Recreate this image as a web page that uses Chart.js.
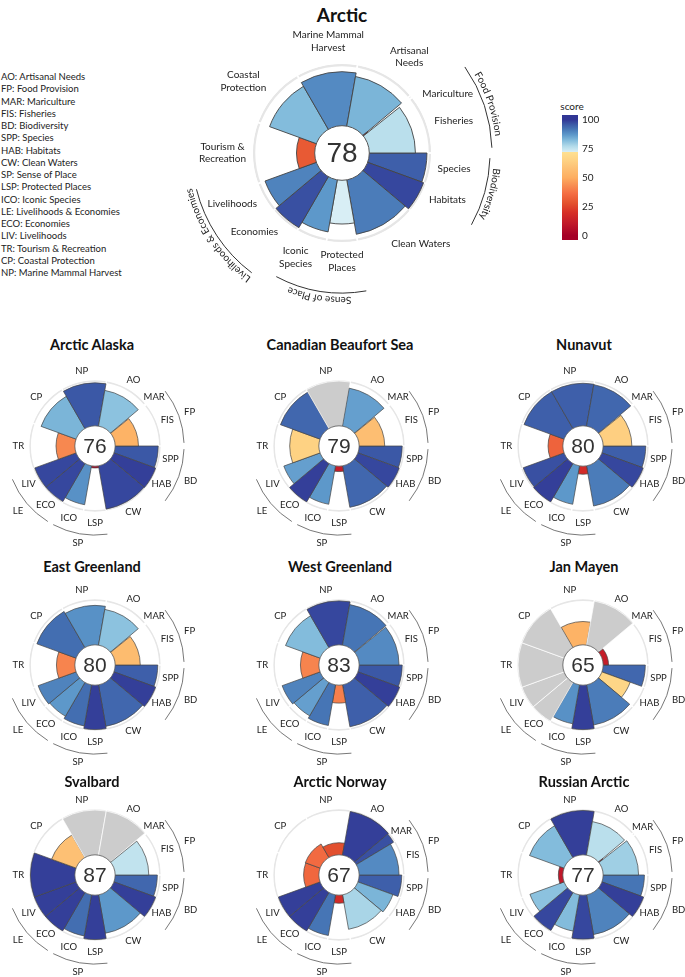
<!DOCTYPE html>
<html>
<head>
<meta charset="utf-8">
<script src="https://cdn.jsdelivr.net/npm/chart.js@4.4.1/dist/chart.umd.min.js"></script>
<style>
  body { margin: 0; background: #fff; width: 685px; height: 977px; position: relative; overflow: hidden; font-family: Lato, sans-serif; color: #222; }
  canvas { position: absolute; }
  .title { position: absolute; width: 240px; text-align: center; font-weight: bold; font-size: 14.5px; line-height: 18px; color: #111; }
  #legend { position: absolute; left: 1px; top: 71px; font-size: 9.5px; line-height: 12.25px; }
  #cbTitle { position: absolute; left: 552px; top: 100px; width: 40px; text-align: center; font-size: 10px; line-height: 12px; }
</style>
</head>
<body>
<div id="legend"></div>
<div id="cbTitle">score</div>
<script>
// goals go clockwise starting at 3 o'clock
const goals = ['SPP', 'HAB', 'CW', 'LSP', 'ICO', 'ECO', 'LIV', 'TR', 'CP', 'NP', 'AO', 'MAR', 'FIS'];
const goalNames = [['Species'], ['Habitats'], ['Clean Waters'], ['Protected', 'Places'], ['Iconic', 'Species'],
  ['Economies'], ['Livelihoods'], ['Tourism &', 'Recreation'], ['Coastal', 'Protection'],
  ['Marine Mammal', 'Harvest'], ['Artisanal', 'Needs'], ['Mariculture'], ['Fisheries']];
const goalWeights = [20, 20, 40, 20, 20, 20, 20, 40, 40, 40, 40, null, null]; // MAR + FIS share 40
const groupKeys = ['FP', 'BD', 'SP', 'LE'];
const groupNames = ['Food Provision', 'Biodiversity', 'Sense of Place', 'Livelihoods & Economies'];
const groupMembers = [['MAR', 'FIS'], ['SPP', 'HAB'], ['LSP', 'ICO'], ['ECO', 'LIV']];

const regions = ['Arctic', 'Arctic Alaska', 'Canadian Beaufort Sea', 'Nunavut', 'East Greenland',
  'West Greenland', 'Jan Mayen', 'Svalbard', 'Arctic Norway', 'Russian Arctic'];
const indexScores = [78, 76, 79, 80, 80, 83, 65, 87, 67, 77];
const marWidths = [1.5, 1, 1, 1, 1, 1, 1, 1, 9, 2];

// scores in goal order, null = no data (grey)
const arctic        = [95, 98, 91, 72, 87, 97, 90, 30, 82, 89, 83, 10, 76];
const arcticAlaska  = [96, 99, 98, 4, 88, 98, 98, 42, 83, 96, 81, 0, 52];
const beaufortSea   = [96, 98, 94, 12, 87, 99, 86, 65, 94, null, 86, 0, 57];
const nunavut       = [95, 98, 91, 18, 87, 99, 97, 33, 95, 95, 94, 0, 64];
const eastGreenland = [95, 99, 94, 99, 93, 87, 90, 41, 93, 88, 81, 0, 56];
const westGreenland = [96, 99, 95, 40, 92, 86, 90, 41, 82, 98, 92, 0, 89];
const janMayen      = [94, 67, 91, 99, 88, null, null, null, null, 52, null, 0, 12];
const svalbard      = [94, 99, 87, 99, 93, 99, 99, 99, 58, null, null, 0, 75];
const arcticNorway  = [95, 83, 78, 18, 92, 99, 99, 34, 35, 27, 99, 97, 89];
const russianArctic = [92, 99, 90, 98, 82, 98, 81, 10, 82, 99, 76, 12, 79];
const regionScores = [arctic, arcticAlaska, beaufortSea, nunavut, eastGreenland,
  westGreenland, janMayen, svalbard, arcticNorway, russianArctic];

const legendLines = ['AO: Artisanal Needs', 'FP: Food Provision', 'MAR: Mariculture', 'FIS: Fisheries',
  'BD: Biodiversity', 'SPP: Species', 'HAB: Habitats', 'CW: Clean Waters', 'SP: Sense of Place',
  'LSP: Protected Places', 'ICO: Iconic Species', 'LE: Livelihoods & Economies', 'ECO: Economies',
  'LIV: Livelihoods', 'TR: Tourism & Recreation', 'CP: Coastal Protection', 'NP: Marine Mammal Harvest'];
const colorbarTicks = [0, 25, 50, 75, 100];

const colorStops = [[0, '#a50026'], [10, '#c0182a'], [20, '#d73027'], [28, '#e4532f'], [36, '#f46d43'],
  [43, '#f88d52'], [50, '#fdae61'], [58, '#fdc074'], [65, '#fed283'], [71.9, '#fee090'], [72, '#d8eef5'],
  [77, '#b2dbea'], [82, '#83bcdc'], [87, '#5d98ca'], [92, '#4675b5'], [96, '#3b58a6'], [100, '#313695']];

// layout bits
const mainLabelNudge = [-2, -6, -11, 0, 4, 8, 5, 0, -4, 3, 5, 10, 3];
const mainGroupArcs = [[55, 88, 150], [92, 119, 148], [170, 208, 140], [217, 256, 150]];
const colX = [95, 339, 583];
const rowY = [446, 665, 875];
const titleX = [92, 340, 584];
const titleY = [345, 567, 782];

const toRad = d => d * Math.PI / 180;
const hex = h => [1, 3, 5].map(i => parseInt(h.slice(i, i + 2), 16));

function scoreColor(v) {
  for (let i = 1; i < colorStops.length; i++) {
    const [v1, c1] = colorStops[i];
    if (v <= v1) {
      const [v0, c0] = colorStops[i - 1];
      const t = (v - v0) / (v1 - v0);
      const a = hex(c0), b = hex(c1);
      return 'rgb(' + a.map((x, j) => Math.round(x + (b[j] - x) * t)).join(',') + ')';
    }
  }
  return colorStops[colorStops.length - 1][1];
}

function widthsFor(k) {
  return goals.map((g, i) => g === 'MAR' ? marWidths[k] : g === 'FIS' ? 40 - marWidths[k] : goalWeights[i]);
}

function curvedText(ctx, text, cx, cy, r, midDeg) {
  const chars = [...text];
  const widths = chars.map(c => ctx.measureText(c).width);
  const total = widths.reduce((a, b) => a + b, 0);
  let th = toRad(midDeg) - total / (2 * r);
  chars.forEach((c, i) => {
    const a = th + widths[i] / (2 * r);
    ctx.save();
    ctx.translate(cx + r * Math.sin(a), cy - r * Math.cos(a));
    ctx.rotate(a);
    ctx.fillText(c, 0, 0);
    ctx.restore();
    th += widths[i] / r;
  });
}

const flowerPlugin = {
  id: 'flower',
  afterDatasetsDraw(chart, args, o) {
    const ctx = chart.ctx, s = chart.scales.r;
    const cx = s.xCenter, cy = s.yCenter, R = s.drawingArea;
    const rin = s.getDistanceFromCenterForValue(0);
    const arcs = chart.getDatasetMeta(0).data;
    ctx.save();

    // centre disc + score
    ctx.beginPath();
    ctx.arc(cx, cy, rin, 0, Math.PI * 2);
    ctx.fillStyle = '#fff';
    ctx.fill();
    ctx.strokeStyle = '#555';
    ctx.lineWidth = o.main ? 1 : 0.8;
    ctx.stroke();
    ctx.fillStyle = '#333';
    ctx.textAlign = 'center';
    ctx.textBaseline = 'middle';
    ctx.font = (o.main ? 28 : 21) + 'px "Liberation Sans", Arial, sans-serif';
    ctx.fillText(String(indexScores[o.k]), cx, cy + 1);

    // petal labels
    ctx.fillStyle = '#222';
    const lh = 12.5;
    ctx.font = (o.main ? 10 : 9.5) + 'px Lato, sans-serif';
    arcs.forEach((a, i) => {
      const mid = (a.startAngle + a.endAngle) / 2 + (o.main ? toRad(mainLabelNudge[i]) : 0);
      const c = Math.cos(mid), sn = Math.sin(mid);
      const lines = o.main ? goalNames[i] : [goals[i]];
      let rr = R * 1.18;
      if (o.main) {
        const w = Math.max(...lines.map(t => ctx.measureText(t).width));
        rr = R + 8 + Math.abs(c) * w / 2 + Math.abs(sn) * lines.length * lh / 2;
      }
      const x = cx + rr * c, y = cy + rr * sn;
      lines.forEach((t, j) => ctx.fillText(t, x, y + (j - (lines.length - 1) / 2) * lh));
    });

    // goal groups
    groupKeys.forEach((key, g) => {
      ctx.beginPath();
      if (o.main) {
        const [from, to, gr] = mainGroupArcs[g];
        ctx.arc(cx, cy, gr, toRad(from - 90), toRad(to - 90));
        ctx.strokeStyle = '#333';
        ctx.lineWidth = 1;
        ctx.stroke();
        ctx.textBaseline = 'alphabetic';
        curvedText(ctx, groupNames[g], cx, cy, gr + 4, (from + to) / 2);
        ctx.textBaseline = 'middle';
      } else {
        const mem = groupMembers[g].map(m => arcs[goals.indexOf(m)]);
        const st = Math.min(...mem.map(a => a.startAngle)) + toRad(2);
        const en = Math.max(...mem.map(a => a.endAngle)) - toRad(2);
        const gr = R * 1.37;
        ctx.arc(cx, cy, gr, st, en);
        ctx.strokeStyle = '#555';
        ctx.lineWidth = 0.8;
        ctx.stroke();
        const mid = (st + en) / 2, c = Math.cos(mid), sn = Math.sin(mid);
        const w = ctx.measureText(key).width;
        const rr = gr + 5 + Math.abs(c) * w / 2 + Math.abs(sn) * 4;
        ctx.fillText(key, cx + rr * c, cy + rr * sn);
      }
    });
    ctx.restore();
  }
};

function makeFlower(k, left, top, w, h, pad, main) {
  const cv = document.createElement('canvas');
  cv.width = w;
  cv.height = h;
  cv.style.left = left + 'px';
  cv.style.top = top + 'px';
  document.body.appendChild(cv);
  const sc = regionScores[k];
  const widths = widthsFor(k);
  new Chart(cv, {
    type: 'polarArea',
    data: {
      labels: goals,
      datasets: [{
        data: sc.map(v => v === null ? 100 : v),
        backgroundColor: sc.map(v => v === null ? '#cccccc' : scoreColor(v)),
        borderColor: sc.map(v => v === null ? '#ffffff' : '#444'),
        borderWidth: main ? 0.9 : 0.7,
        angle: c => widths[c.dataIndex]
      }, {
        // white slot dividers that cut the outer ring
        data: sc.map(() => 103),
        backgroundColor: 'rgba(0,0,0,0)',
        borderColor: '#ffffff',
        borderWidth: main ? 1.5 : 1.2,
        angle: c => widths[c.dataIndex]
      }]
    },
    options: {
      responsive: false,
      animation: false,
      layout: { padding: pad },
      plugins: { legend: { display: false }, tooltip: { enabled: false }, flower: { k: k, main: main } },
      scales: {
        r: {
          min: -45,
          max: 100,
          startAngle: 90,
          ticks: { display: false },
          pointLabels: { display: false },
          angleLines: { display: false },
          afterBuildTicks: s => { s.ticks = [{ value: -45 }, { value: 100 }]; },
          grid: {
            circular: true,
            color: c => c.tick && c.tick.value === 100 ? '#e6e6e6' : 'rgba(0,0,0,0)',
            lineWidth: main ? 2.5 : 1.8
          }
        }
      }
    },
    plugins: [flowerPlugin]
  });
}

function addTitle(text, x, y, size) {
  const d = document.createElement('div');
  d.className = 'title';
  d.textContent = text;
  d.style.left = (x - 120) + 'px';
  d.style.top = (y - 9) + 'px';
  if (size) {
    d.style.fontSize = size + 'px';
    d.style.lineHeight = '22px';
    d.style.top = (y - 11) + 'px';
  }
  document.body.appendChild(d);
}

document.getElementById('legend').innerHTML = legendLines.join('<br>');

// main flower
addTitle(regions[0], 342, 15, 19);
makeFlower(0, 342 - 240, 0, 480, 320, { left: 152, right: 152, top: 65, bottom: 79 }, true);

// regional flowers
for (let k = 1; k < regions.length; k++) {
  const col = (k - 1) % 3, row = Math.floor((k - 1) / 3);
  addTitle(regions[k], titleX[col], titleY[row]);
  makeFlower(k, colX[col] - 120, rowY[row] - 118, 240, 230, { left: 55, right: 55, top: 53, bottom: 47 }, false);
}

// colour bar
const cb = document.createElement('canvas');
cb.width = 50;
cb.height = 150;
cb.style.left = '550px';
cb.style.top = '100px';
document.body.appendChild(cb);
new Chart(cb, {
  type: 'bar',
  data: {
    labels: ['score'],
    datasets: [{
      data: [[-4, 104]],
      backgroundColor: c => {
        const ch = c.chart, y = ch.scales.y;
        if (!ch.chartArea || !y) return '#ccc';
        const g = ch.ctx.createLinearGradient(0, y.getPixelForValue(-4), 0, y.getPixelForValue(104));
        g.addColorStop(0, colorStops[0][1]);
        colorStops.forEach(([v, col]) => g.addColorStop((v + 4) / 108, col));
        g.addColorStop(1, colorStops[colorStops.length - 1][1]);
        return g;
      },
      barPercentage: 1,
      categoryPercentage: 1,
      borderWidth: 0
    }]
  },
  options: {
    responsive: false,
    animation: false,
    layout: { padding: { left: 12, top: 15, bottom: 10, right: 0 } },
    plugins: { legend: { display: false }, tooltip: { enabled: false } },
    scales: {
      x: { display: false },
      y: {
        position: 'right',
        min: -4,
        max: 104,
        afterBuildTicks: s => { s.ticks = colorbarTicks.map(v => ({ value: v })); },
        afterFit: s => { s.width = 22; },
        grid: { display: false, drawTicks: false },
        border: { display: false },
        ticks: { padding: 4, color: '#222', font: { family: 'Lato', size: 10 } }
      }
    }
  }
});
</script>
</body>
</html>
